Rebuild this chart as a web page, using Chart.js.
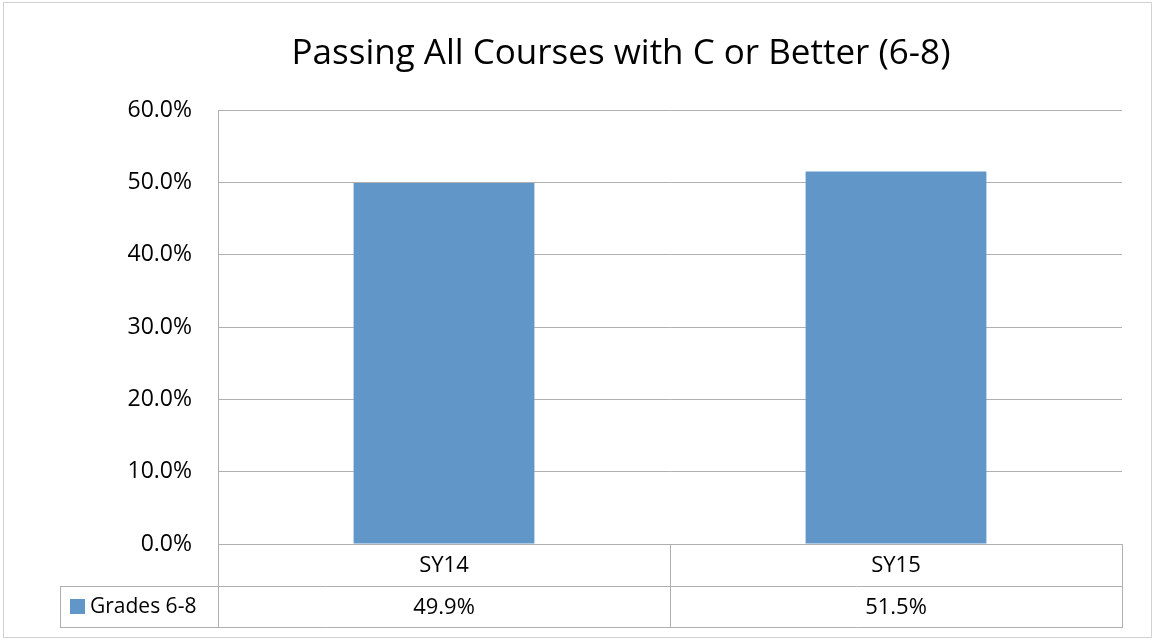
<!DOCTYPE html>
<html>
<head>
<meta charset="utf-8">
<script src="https://cdn.jsdelivr.net/npm/chart.js@4"></script>
<style>
  html, body { margin: 0; padding: 0; background: #fff; }
  #wrap { width: 1153px; height: 640px; position: relative; }
</style>
</head>
<body>
<div id="wrap"><canvas id="chart"></canvas></div>
<script>
const chartTitle = 'Passing All Courses with C or Better (6-8)';
const categories = ['SY14', 'SY15'];
const seriesName = 'Grades 6-8';
const seriesValues = [49.9, 51.5];
const yMax = 60;
const yStep = 10;

const FONT = '"Open Sans", sans-serif';
const BAR_COLOR = 'rgb(97,150,201)';
const LINE_COLOR = 'rgb(176,176,176)';

function pct(v) {
    return v.toFixed(1) + '%';
}

// frame, title and the data table under the x axis
const tablePlugin = {
    id: 'tablePlugin',
    beforeDraw(chart) {
        const c = chart.ctx;
        c.save();
        c.strokeStyle = 'rgb(210,210,210)';
        c.lineWidth = 1;
        c.strokeRect(3.5, 2.5, chart.width - 5, chart.height - 5);
        c.restore();
    },
    afterDraw(chart) {
        const c = chart.ctx;
        const area = chart.chartArea;
        const x = chart.scales.x;
        const rowH = 41.5;
        const r1 = area.bottom + rowH;
        const r2 = r1 + rowH;
        const legendLeft = 60;

        c.save();
        c.fillStyle = '#000';
        c.font = '35px ' + FONT;
        c.textAlign = 'center';
        c.textBaseline = 'middle';
        c.fillText(chartTitle, 621, 54);

        c.strokeStyle = LINE_COLOR;
        c.lineWidth = 1;
        c.beginPath();
        // horizontal lines
        c.moveTo(legendLeft, Math.round(r1) + 0.5);
        c.lineTo(area.right, Math.round(r1) + 0.5);
        c.moveTo(legendLeft, Math.round(r2) + 0.5);
        c.lineTo(area.right, Math.round(r2) + 0.5);
        // legend cell left edge
        c.moveTo(legendLeft + 0.5, Math.round(r1));
        c.lineTo(legendLeft + 0.5, Math.round(r2) + 1);
        // axis line down through table
        c.moveTo(Math.round(area.left) + 0.5, area.bottom);
        c.lineTo(Math.round(area.left) + 0.5, Math.round(r2) + 1);
        // column dividers
        for (let i = 0; i < categories.length; i++) {
            const edge = Math.round(x.getPixelForValue(i) + (x.getPixelForValue(1) - x.getPixelForValue(0)) / 2) + 0.5;
            c.moveTo(edge, area.bottom);
            c.lineTo(edge, Math.round(r2) + 1);
        }
        c.stroke();

        c.font = '22px ' + FONT;
        c.fillStyle = '#000';
        c.textAlign = 'center';
        categories.forEach((cat, i) => {
            const cx = x.getPixelForValue(i);
            c.fillText(cat, cx, (area.bottom + r1) / 2 + 1);
            c.fillText(pct(seriesValues[i]), cx, (r1 + r2) / 2 + 1);
        });

        c.fillStyle = BAR_COLOR;
        c.fillRect(70, 599, 15, 15);
        c.fillStyle = '#000';
        c.textAlign = 'left';
        c.font = '21px ' + FONT;
        c.fillText(seriesName, 90, (r1 + r2) / 2 + 1);
        c.restore();
    }
};

new Chart(document.getElementById('chart'), {
    type: 'bar',
    data: {
        labels: categories,
        datasets: [{
            label: seriesName,
            data: seriesValues,
            backgroundColor: BAR_COLOR,
            borderWidth: 0,
            barPercentage: 0.4,
            categoryPercentage: 1.0
        }]
    },
    options: {
        responsive: true,
        maintainAspectRatio: false,
        animation: false,
        layout: {
            padding: { top: 110, right: 31, bottom: 96, left: 0 }
        },
        plugins: {
            legend: { display: false },
            title: { display: false },
            tooltip: { enabled: false }
        },
        scales: {
            x: {
                ticks: { display: false },
                grid: { display: false, drawTicks: false },
                border: { color: LINE_COLOR }
            },
            y: {
                min: 0,
                max: yMax,
                afterFit(scale) { scale.width = 218; },
                ticks: {
                    stepSize: yStep,
                    padding: 26,
                    color: '#000',
                    font: { family: FONT, size: 23 },
                    callback: v => pct(v)
                },
                grid: { color: LINE_COLOR, drawTicks: false },
                border: { color: LINE_COLOR }
            }
        }
    },
    plugins: [tablePlugin]
});
</script>
</body>
</html>
